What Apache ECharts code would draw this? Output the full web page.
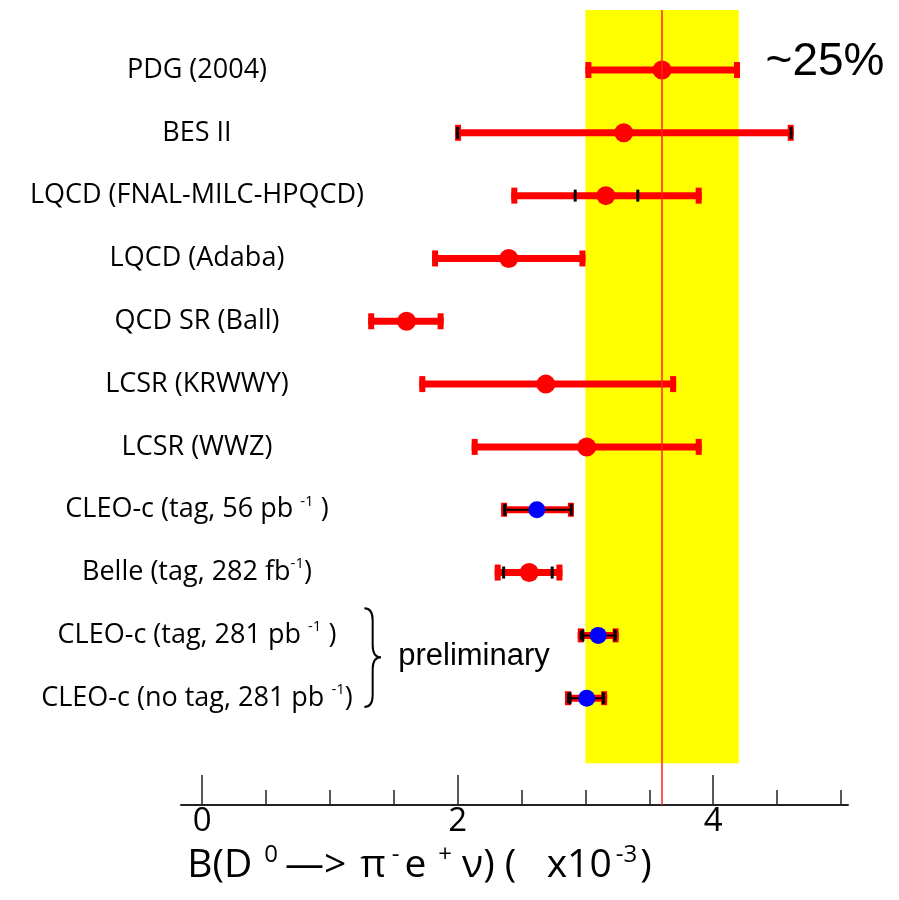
<!DOCTYPE html>
<html><head><meta charset="utf-8">
<script src="https://cdn.jsdelivr.net/npm/echarts@6/dist/echarts.min.js"></script>
<style>html,body{margin:0;padding:0;background:#fff}#c{width:899px;height:900px}</style>
</head><body><div id="c"></div>
<script>
// ---- data ----
const labels = [
  'PDG (2004)',
  'BES II',
  'LQCD (FNAL-MILC-HPQCD)',
  'LQCD (Adaba)',
  'QCD SR (Ball)',
  'LCSR (KRWWY)',
  'LCSR (WWZ)',
  'CLEO-c (tag, 56 pb {sup|-1} )',
  'Belle (tag, 282 fb{sup|-1})',
  'CLEO-c (tag, 281 pb {sup|-1} )',
  'CLEO-c (no tag, 281 pb {sup|-1})'
];
const centralValues = [3.60, 3.30, 3.16, 2.40, 1.60, 2.69, 3.01, 2.62, 2.56, 3.10, 3.01];
const totalLow      = [3.00, 1.98, 2.42, 1.80, 1.30, 1.70, 2.11, 2.34, 2.29, 2.94, 2.84];
const totalHigh     = [4.21, 4.63, 3.91, 3.00, 1.89, 3.71, 3.91, 2.91, 2.82, 3.26, 3.17];
const statLow       = [null, 2.00, 2.92, null, null, null, null, 2.37, 2.36, 2.98, 2.88];
const statHigh      = [null, 4.61, 3.41, null, null, null, null, 2.89, 2.74, 3.23, 3.14];
const cleoRows      = [false, false, false, false, false, false, false, true, false, true, true];
const averageBand   = [3.0, 4.2];
const averageValue  = 3.6;
const majorTicks    = [0, 2, 4];
const minorTicks    = [0.5, 1, 1.5, 2.5, 3, 3.5, 4.5, 5];
const bandNote      = '~25%';
const prelimNote    = 'preliminary';
const axisTitle     = 'B(D{s0|0}{ar|—>}π{sm|-}e{sp|+}ν) (   x10{s3|-3})';

// ---- layout constants (not data) ----
const X_MIN = -0.165, X_MAX = 5.055;
const Y_MIN = 0.045, Y_MAX = 12.70;
const BAND_BOTTOM_ROW = 12.035;
const LABEL_X = -0.04;
const RED = '#ff0000';
const FONT = '"Open Sans", sans-serif';

const rows = labels.map((_, i) => i + 1);
const errData = labels.map((_, i) => [totalLow[i], rows[i], totalHigh[i],
  statLow[i] == null ? NaN : statLow[i], statHigh[i] == null ? NaN : statHigh[i]]);

function renderErr(params, api) {
  const i = params.dataIndex;
  const row = api.value(1);
  const lo = api.coord([api.value(0), row]);
  const hi = api.coord([api.value(2), row]);
  const sl = api.value(3), sh = api.value(4);
  const small = cleoRows[i];
  const th = 7, capW = 6, capH = small ? 14 : 16;
  const y = lo[1];
  const ch = [
    {type: 'rect', shape: {x: lo[0], y: y - th / 2, width: hi[0] - lo[0], height: th}, style: {fill: RED}},
    {type: 'rect', shape: {x: lo[0], y: y - capH / 2, width: capW, height: capH}, style: {fill: RED}},
    {type: 'rect', shape: {x: hi[0] - capW, y: y - capH / 2, width: capW, height: capH}, style: {fill: RED}}
  ];
  if (small) {
    ch.push({type: 'rect', shape: {x: lo[0] + 2, y: y - 1, width: hi[0] - lo[0] - 4, height: 2}, style: {fill: '#000'}});
    ch.push({type: 'rect', shape: {x: lo[0] + 2, y: y - 5, width: 2, height: 10}, style: {fill: '#000'}});
    ch.push({type: 'rect', shape: {x: hi[0] - 4, y: y - 5, width: 2, height: 10}, style: {fill: '#000'}});
  }
  if (!isNaN(sl)) {
    const a = api.coord([sl, row]), b = api.coord([sh, row]);
    ch.push({type: 'rect', shape: {x: a[0] - 1.5, y: y - 6, width: 3, height: 12}, style: {fill: '#000'}});
    ch.push({type: 'rect', shape: {x: b[0] - 1.5, y: y - 6, width: 3, height: 12}, style: {fill: '#000'}});
  }
  return {type: 'group', children: ch};
}

function renderLabel(params, api) {
  const p = api.coord([LABEL_X, api.value(0)]);
  return {
    type: 'text',
    style: {
      text: labels[params.dataIndex], x: p[0], y: p[1], align: 'center', verticalAlign: 'middle',
      fill: '#000', font: '27px ' + FONT,
      rich: {sup: {fontSize: 15, fontFamily: 'Open Sans', verticalAlign: 'top', fill: '#000', lineHeight: 32}}
    }
  };
}

function renderNotes(params, api) {
  const p1 = api.coord([4.41, 0.88]);
  const p2 = api.coord([1.535, 10.33]);
  const t = api.coord([1.27, 9.57]);
  const m = api.coord([1.40, 10.35]);
  const b = api.coord([1.27, 11.14]);
  const xm = (t[0] + m[0]) / 2, r = 12;
  const path = `M${t[0]} ${t[1]} Q${xm} ${t[1]} ${xm} ${t[1] + r} L${xm} ${m[1] - r} Q${xm} ${m[1]} ${m[0]} ${m[1]} ` +
               `Q${xm} ${m[1]} ${xm} ${m[1] + r} L${xm} ${b[1] - r} Q${xm} ${b[1]} ${b[0]} ${b[1]}`;
  return {type: 'group', children: [
    {type: 'text', style: {text: bandNote, x: p1[0], y: p1[1], align: 'left', verticalAlign: 'middle', fill: '#000', font: '46px "Liberation Sans", Arial, sans-serif'}},
    {type: 'text', style: {text: prelimNote, x: p2[0], y: p2[1], align: 'left', verticalAlign: 'middle', fill: '#000', font: '31px "Liberation Sans", Arial, sans-serif'}},
    {type: 'path', shape: {pathData: path}, style: {stroke: '#000', lineWidth: 2, fill: null}}
  ]};
}

const SUP = {fontSize: 24, fontFamily: 'Open Sans', color: '#000', verticalAlign: 'top', lineHeight: 12};
const chart = echarts.init(document.getElementById('c'));
chart.setOption({
  backgroundColor: '#fff',
  animation: false,
  grid: {left: 181, right: 51, top: 10, bottom: 95},
  xAxis: [{
    type: 'value', min: X_MIN, max: X_MAX, position: 'bottom',
    splitLine: {show: false},
    axisLine: {show: true, lineStyle: {color: '#222', width: 2}},
    axisTick: {show: true, inside: true, length: 30, customValues: majorTicks, lineStyle: {color: '#222', width: 1.5}},
    axisLabel: {show: true, customValues: majorTicks, margin: 0, fontSize: 33, color: '#000', fontFamily: 'Open Sans'},
    name: axisTitle,
    nameLocation: 'middle', nameGap: 16,
    nameTextStyle: {
      fontSize: 39, fontFamily: 'Open Sans', color: '#000', padding: [0, 190, 0, 0], lineHeight: 46,
      rich: {
        s0: Object.assign({}, SUP, {padding: [0, 7, 0, 12]}),
        ar: {fontSize: 39, fontFamily: 'Open Sans', color: '#000', lineHeight: 46, padding: [0, 14, 0, 0]},
        sm: Object.assign({}, SUP, {padding: [0, 5, 0, 6]}),
        sp: Object.assign({}, SUP, {padding: [0, 10, 0, 12]}),
        s3: Object.assign({}, SUP, {padding: [0, 3, 0, 4]})
      }
    }
  }, {
    type: 'value', min: X_MIN, max: X_MAX, position: 'bottom', gridIndex: 0,
    splitLine: {show: false}, axisLine: {show: false}, axisLabel: {show: false},
    axisTick: {show: true, inside: true, length: 15, customValues: minorTicks, lineStyle: {color: '#222', width: 1.5}}
  }],
  yAxis: {type: 'value', inverse: true, min: Y_MIN, max: Y_MAX, show: false, splitLine: {show: false}},
  series: [
    {
      type: 'custom', name: 'errors', renderItem: renderErr, data: errData, z: 3,
      encode: {x: [0, 2], y: 1},
      markArea: {silent: true, itemStyle: {color: '#ffff00', opacity: 1},
        data: [[{xAxis: averageBand[0], yAxis: Y_MIN}, {xAxis: averageBand[1], yAxis: BAND_BOTTOM_ROW}]]},
      markLine: {silent: true, symbol: 'none', label: {show: false},
        lineStyle: {color: '#ff2020', width: 1.5, type: 'solid'}, data: [{xAxis: averageValue}]}
    },
    {
      type: 'scatter', name: 'values', z: 4,
      data: centralValues.map((v, i) => [v, rows[i]]),
      symbolSize: (v, p) => cleoRows[p.dataIndex] ? 17 : 19,
      itemStyle: {color: p => cleoRows[p.dataIndex] ? '#0000ff' : RED, opacity: 1}
    },
    {type: 'custom', name: 'labels', renderItem: renderLabel, data: rows.map(r => [r]), encode: {y: 0}, z: 5, silent: true},
    {type: 'custom', name: 'notes', renderItem: renderNotes, data: [[0]], z: 5, silent: true}
  ]
});
</script></body></html>
